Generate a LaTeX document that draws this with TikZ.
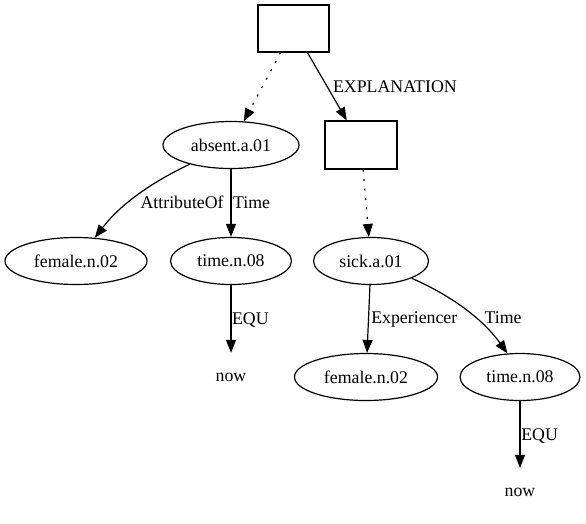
\documentclass[tikz,border=0pt]{standalone}
\usepackage{fontspec}
\setmainfont{Liberation Serif}
\usetikzlibrary{shapes.geometric,arrows.meta}
\begin{document}
\begin{tikzpicture}[x=1pt,y=-1pt,
  font=\fontsize{17.8}{20}\selectfont,
  every path/.style={line width=1.2pt},
  ell/.style={draw,ellipse,inner sep=0pt,minimum height=47pt,line width=1.2pt},
  boxn/.style={draw,rectangle,inner sep=0pt,line width=1.2pt},
  plain/.style={inner sep=0pt,minimum height=47pt,minimum width=40pt},
  edge/.style={-{Triangle[length=13pt,width=10pt]}},
  dotedge/.style={edge,dash pattern=on 2pt off 7.5pt},
  lab/.style={anchor=base west,inner sep=0pt}]
\useasboundingbox (0,0) rectangle (586,523);
% nodes
\node[boxn,minimum width=71pt,minimum height=47pt] (top) at (293.5,28.5) {};
\node[boxn,minimum width=72pt,minimum height=48pt] (box2) at (361,145) {};
\node[ell,minimum width=136pt] (absent) at (231,145) {absent.a.01};
\node[ell,minimum width=142pt] (fem1) at (76,261) {female.n.02};
\node[ell,minimum width=121pt] (time1) at (231,261) {time.n.08};
\node[plain] (now1) at (231,377) {now};
\node[ell,minimum width=115pt] (sick) at (371,261) {sick.a.01};
\node[ell,minimum width=143pt] (fem2) at (366,377) {female.n.02};
\node[ell,minimum width=120pt] (time2) at (520,377) {time.n.08};
\node[plain] (now2) at (520,492) {now};
% edges
\draw[dotedge] (top) -- (absent);
\draw[edge] (top) -- (box2);
\draw[dotedge] (box2) -- (sick);
\draw[edge] (absent.-155.6) .. controls (150,183) and (120,205) .. (fem1.51.6);
\draw[edge] (absent) -- (time1);
\draw[edge] (time1) -- (now1);
\draw[edge] (sick) -- (fem2);
\draw[edge] (sick.-23) .. controls (450,295) and (482,318) .. (time2.118.4);
\draw[edge] (time2) -- (now2);
% labels
\node[lab] (lexp) at (332.5,92) {EXPLANATION};
\node[lab] (lattr) at (140,208.3) {AttributeOf};
\node[lab] (ltime1) at (232.5,208.3) {Time};
\node[lab] (lequ1) at (231.5,324) {EQU};
\node[lab] (lexper) at (370.7,323.3) {Experiencer};
\node[lab] (ltime2) at (484,323.3) {Time};
\node[lab] (lequ2) at (520.7,440) {EQU};
\end{tikzpicture}
\end{document}
